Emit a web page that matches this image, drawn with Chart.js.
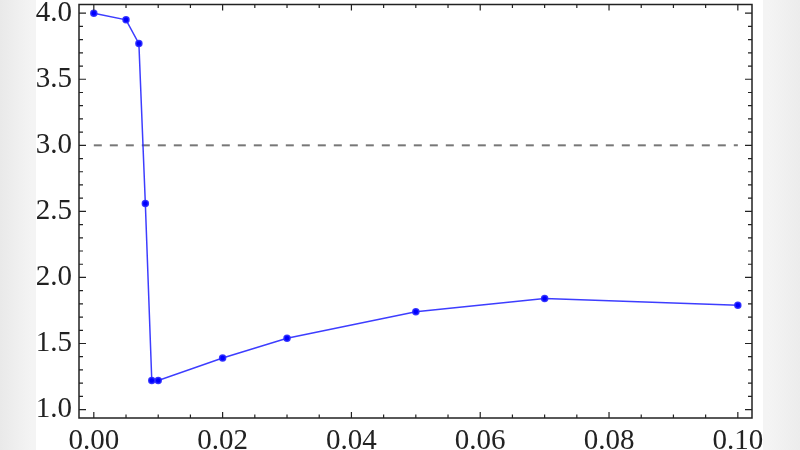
<!DOCTYPE html>
<html>
<head>
<meta charset="utf-8">
<script src="https://cdn.jsdelivr.net/npm/chart.js@4/dist/chart.umd.min.js"></script>
<style>
    html, body { margin: 0; padding: 0; }
    body { width: 800px; height: 450px; background: linear-gradient(to right, #e9e9e9, #f4f4f4 4%, #f4f4f4 96%, #ececec); overflow: hidden; position: relative; }
    #wrap { position: absolute; left: 36px; top: 0; width: 727px; height: 450px; background: #fff; }
    .warm { font-family: 'Liberation Serif'; position: absolute; left: -100px; }
</style>
</head>
<body>
<span class="warm">0.123456789</span>
<div id="wrap"><canvas id="plot"></canvas></div>
<script>
// data
const xValues = [0, 0.005, 0.007, 0.008, 0.009, 0.01, 0.02, 0.03, 0.05, 0.07, 0.1];
const yValues = [4.0, 3.95, 3.77, 2.56, 1.22, 1.22, 1.39, 1.54, 1.74, 1.84, 1.79];
const refX = [0, 0.1];
const refY = [3.0, 3.0];

const xTicks = [0, 0.02, 0.04, 0.06, 0.08, 0.1];
const xTickLabels = ['0.00', '0.02', '0.04', '0.06', '0.08', '0.10'];
const yTicks = [1.0, 1.5, 2.0, 2.5, 3.0, 3.5, 4.0];
const yTickLabels = ['1.0', '1.5', '2.0', '2.5', '3.0', '3.5', '4.0'];

const mainPoints = xValues.map((x, i) => ({ x: x, y: yValues[i] }));
const refPoints = refX.map((x, i) => ({ x: x, y: refY[i] }));

const tickFont = { family: "'Liberation Serif', 'Times New Roman', serif", size: 29 };

// frame with inward ticks on all four sides (major + minor)
const framePlugin = {
    id: 'frame',
    afterDraw(chart) {
        const ctx = chart.ctx;
        const a = chart.chartArea;
        const xs = chart.scales.x, ys = chart.scales.y;
        ctx.save();
        ctx.strokeStyle = '#222';
        ctx.lineWidth = 1.5;
        ctx.strokeRect(a.left, a.top, a.right - a.left, a.bottom - a.top);

        ctx.lineWidth = 1.2;
        ctx.beginPath();
        for (let i = 0; i <= 20; i++) {
            const px = xs.getPixelForValue(i * 0.005);
            const len = i % 4 === 0 ? 6 : 3.5;
            ctx.moveTo(px, a.bottom); ctx.lineTo(px, a.bottom - len);
            ctx.moveTo(px, a.top); ctx.lineTo(px, a.top + len);
        }
        for (let i = 0; i <= 30; i++) {
            const py = ys.getPixelForValue(1 + i * 0.1);
            const len = i % 5 === 0 ? 7 : 4;
            ctx.moveTo(a.left, py); ctx.lineTo(a.left + len, py);
            ctx.moveTo(a.right, py); ctx.lineTo(a.right - len, py);
        }
        ctx.stroke();
        ctx.restore();
    }
};

function draw() {
    new Chart(document.getElementById('plot'), {
        type: 'scatter',
        data: {
            datasets: [
                {
                    data: mainPoints,
                    showLine: true,
                    borderColor: 'rgba(40, 40, 255, 0.9)',
                    backgroundColor: '#0000ff',
                    borderWidth: 1.5,
                    pointRadius: 3,
                    pointHoverRadius: 3,
                    order: 1
                },
                {
                    data: refPoints,
                    showLine: true,
                    borderColor: '#777',
                    borderWidth: 2,
                    borderDash: [8, 8],
                    pointRadius: 0,
                    order: 2
                }
            ]
        },
        options: {
            responsive: true,
            maintainAspectRatio: false,
            animation: false,
            layout: { padding: { top: 3, right: 11, left: 0, bottom: 0 } },
            plugins: { legend: { display: false }, tooltip: { enabled: false } },
            scales: {
                x: {
                    type: 'linear',
                    min: -0.0023,
                    max: 0.1022,
                    grid: { display: false, drawTicks: false },
                    border: { display: false },
                    afterBuildTicks: s => { s.ticks = xTicks.map(v => ({ value: v })); },
                    afterFit: s => { s.height = 32; s.paddingLeft = 0; s.paddingRight = 0; },
                    ticks: {
                        padding: 6,
                        color: '#222',
                        font: tickFont,
                        maxRotation: 0,
                        callback: (v) => xTickLabels[xTicks.findIndex(t => Math.abs(t - v) < 1e-9)]
                    }
                },
                y: {
                    type: 'linear',
                    min: 0.936,
                    max: 4.066,
                    grid: { display: false, drawTicks: false },
                    border: { display: false },
                    afterBuildTicks: s => { s.ticks = yTicks.map(v => ({ value: v })); },
                    afterFit: s => { s.width = 43; s.paddingTop = 0; s.paddingBottom = 0; },
                    ticks: {
                        padding: 7,
                        color: '#222',
                        font: tickFont,
                        callback: (v) => yTickLabels[yTicks.findIndex(t => Math.abs(t - v) < 1e-9)]
                    }
                }
            }
        },
        plugins: [framePlugin]
    });
}

if (document.fonts && document.fonts.load) {
    document.fonts.load("29px 'Liberation Serif'").then(draw, draw);
} else {
    draw();
}
</script>
</body>
</html>
